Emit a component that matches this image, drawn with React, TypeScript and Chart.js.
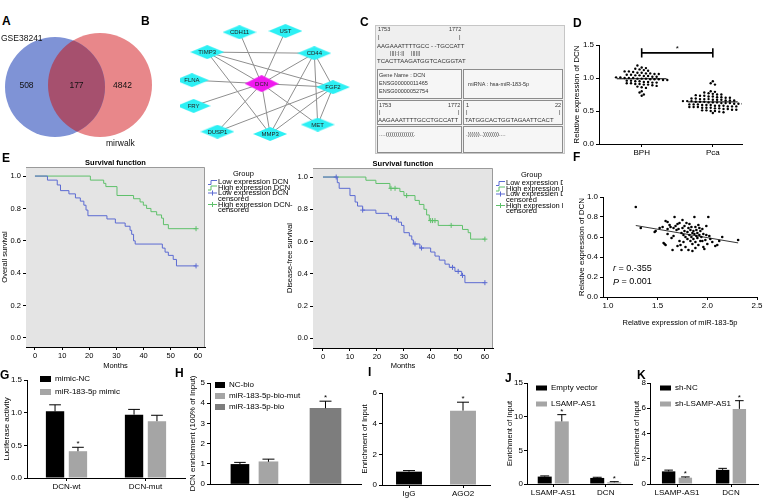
import React, { useEffect, useRef } from 'react';
import { Chart, registerables } from 'chart.js';
Chart.register(...registerables);

const FONT = '"Liberation Sans", Arial, Helvetica, sans-serif';
Chart.defaults.font.family = FONT;

// ---------------- DATA ----------------
// A: Venn
const vennSets = ['GSE38241', 'mirwalk'];
const vennCounts = [508, 177, 4842]; // only set A, both, only set B
const vennCX = [0, 0.9];
const vennCY = [0, 0.04];
const vennR = [1, 1.04];

// B: network
const netNodes = ['CDH11', 'UST', 'TIMP3', 'CD44', 'FLNA', 'DCN', 'FGF2', 'FRY', 'MET', 'DUSP1', 'MMP3'];
const netX = [3.5, 6.2, 1.6, 7.9, 0.7, 4.8, 9.0, 0.8, 8.1, 2.2, 5.3];
const netY = [0.7, 0.6, 2.4, 2.5, 4.8, 5.1, 5.4, 7.0, 8.6, 9.2, 9.4];
const netHub = 'DCN';
const netEdges = [
  ['DCN', 'CDH11'], ['DCN', 'UST'], ['DCN', 'TIMP3'], ['DCN', 'CD44'], ['DCN', 'FLNA'], ['DCN', 'FGF2'],
  ['DCN', 'FRY'], ['DCN', 'MET'], ['DCN', 'DUSP1'], ['DCN', 'MMP3'],
  ['TIMP3', 'CD44'], ['TIMP3', 'FGF2'], ['TIMP3', 'MMP3'],
  ['CD44', 'FGF2'], ['CD44', 'MET'], ['CD44', 'MMP3'],
  ['FGF2', 'MET'], ['FGF2', 'MMP3'], ['FGF2', 'DUSP1'],
];

// C: binding site
const alignNums = ['1753', '1772'];
const alignSeq1 = 'AAGAAATTTTGCC - -TGCCATT';
const alignPairs = '||||:|:||    ||||||';
const alignSeq2 = 'TCACTTAAGATGGTCACGGTAT';
const geneInfo = ['Gene Name : DCN', 'ENSG00000011465', 'ENSG00000052754'];
const mirnaInfo = 'miRNA : hsa-miR-183-5p';
const geneRange = ['1753', '1772'];
const geneSeq = 'AAGAAATTTTGCCTGCCATT';
const geneFold = '....((((((((((((((.';
const mirRange = ['1', '22'];
const mirSeq = 'TATGGCACTGGTAGAATTCACT';
const mirFold = '.))))))..))))))))....';

// D: DCN expression
const dCats = ['BPH', 'Pca'];
const dBPH = [1.19, 1.16, 1.15, 1.14, 1.13, 1.12, 1.11, 1.10, 1.10, 1.09, 1.08, 1.08, 1.07, 1.07, 1.06, 1.06, 1.05, 1.05, 1.04, 1.04,
  1.03, 1.03, 1.02, 1.02, 1.01, 1.01, 1.00, 1.00, 1.00, 0.99, 0.99, 0.99, 0.98, 0.98, 0.98, 0.97, 0.97, 0.96, 0.96, 0.95,
  0.95, 0.94, 0.94, 0.93, 0.93, 0.92, 0.92, 0.91, 0.91, 0.90, 0.90, 0.89, 0.88, 0.87, 0.86, 0.85, 0.80, 0.78, 0.75, 0.73];
const dPca = [0.95, 0.92, 0.90, 0.80, 0.79, 0.78, 0.77, 0.76, 0.75, 0.75, 0.74, 0.73, 0.73, 0.72, 0.72, 0.71, 0.71, 0.70, 0.70, 0.69,
  0.69, 0.68, 0.68, 0.68, 0.67, 0.67, 0.67, 0.66, 0.66, 0.66, 0.65, 0.65, 0.65, 0.64, 0.64, 0.64, 0.63, 0.63, 0.63, 0.62,
  0.62, 0.62, 0.61, 0.61, 0.61, 0.60, 0.60, 0.60, 0.59, 0.59, 0.59, 0.58, 0.58, 0.58, 0.57, 0.57, 0.57, 0.56, 0.56, 0.56,
  0.55, 0.55, 0.55, 0.54, 0.54, 0.53, 0.53, 0.52, 0.52, 0.51, 0.51, 0.50, 0.50, 0.49, 0.48, 0.47];
const dYTicks = [0, 0.5, 1.0, 1.5];

// E: survival
const kmXTicks = [0, 10, 20, 30, 40, 50, 60];
const kmYTicks = [0, 0.2, 0.4, 0.6, 0.8, 1.0];
const kmGroups = ['Low expression DCN', 'High expression DCN', 'Low expression DCN', 'High expression DCN-'];
const kmGroups2 = ['Low expression DCN', 'High expression DCN', 'Low expressien DCN', 'High expression DCN-'];
const osLowT = [0, 4.6, 8.2, 9.4, 12.5, 14.9, 16.7, 18, 18.8, 19.5, 26.5, 29.6, 33.2, 35, 35.6, 36.3, 36.9, 46.9, 47.9, 49.1, 50.9, 52.1, 59.3];
const osLowS = [1, 0.975, 0.945, 0.91, 0.89, 0.865, 0.845, 0.82, 0.79, 0.755, 0.735, 0.71, 0.69, 0.665, 0.64, 0.60, 0.58, 0.555, 0.53, 0.51, 0.485, 0.445, 0.445];
const osLowCT = [59.3];
const osLowCS = [0.445];
const osHighT = [0, 20.4, 25.3, 26.1, 30.2, 36.3, 38.7, 39.9, 41.1, 42.7, 44.8, 46.6, 47.3, 49.1, 59.3];
const osHighS = [1, 0.975, 0.955, 0.935, 0.88, 0.86, 0.84, 0.82, 0.80, 0.78, 0.76, 0.74, 0.70, 0.675, 0.675];
const osHighCT = [59.3];
const osHighCS = [0.675];
const dfsLowT = [0, 5.3, 6.0, 10, 11.9, 12.8, 14.7, 19.6, 24.2, 25.4, 27.9, 29.1, 30, 32, 32.9, 33.5, 35.9, 39.9, 41.5, 43.1, 45.2, 46.8, 48.9, 51.4, 52.6, 60];
const dfsLowS = [1, 0.965, 0.93, 0.885, 0.845, 0.82, 0.795, 0.775, 0.76, 0.74, 0.72, 0.70, 0.655, 0.635, 0.61, 0.585, 0.56, 0.535, 0.51, 0.485, 0.46, 0.44, 0.415, 0.39, 0.345, 0.345];
const dfsLowCT = [4.9, 14.7, 27.2, 34.1, 36.5, 48, 50.1, 51.7, 60];
const dfsLowCS = [1, 0.795, 0.74, 0.585, 0.56, 0.44, 0.415, 0.39, 0.345];
const dfsHighT = [0, 15.9, 19.6, 24.8, 28.5, 30, 34.1, 35.7, 37.4, 38.4, 39.4, 42.7, 51.7, 53.8, 54.7, 60];
const dfsHighS = [1, 0.98, 0.96, 0.93, 0.91, 0.885, 0.855, 0.83, 0.80, 0.765, 0.73, 0.70, 0.675, 0.655, 0.615, 0.615];
const dfsHighCT = [25.2, 26.7, 31, 39.9, 40.6, 41.5, 47.5, 60];
const dfsHighCS = [0.93, 0.93, 0.885, 0.73, 0.73, 0.73, 0.70, 0.615];

// F: correlation
const fX = [1.28, 1.33, 1.47, 1.48, 1.52, 1.55, 1.56, 1.57, 1.58, 1.58, 1.60, 1.60, 1.62, 1.63, 1.64, 1.65, 1.66, 1.67, 1.68, 1.69,
  1.70, 1.71, 1.72, 1.72, 1.73, 1.74, 1.75, 1.75, 1.76, 1.77, 1.77, 1.78, 1.78, 1.79, 1.80, 1.80, 1.81, 1.81, 1.82, 1.82,
  1.83, 1.83, 1.84, 1.84, 1.85, 1.85, 1.85, 1.86, 1.86, 1.87, 1.87, 1.88, 1.88, 1.89, 1.89, 1.90, 1.90, 1.91, 1.91, 1.92,
  1.93, 1.93, 1.94, 1.95, 1.96, 1.96, 1.97, 1.98, 1.99, 2.00, 2.01, 2.02, 2.03, 2.05, 2.08, 2.10, 2.12, 2.15, 2.31, 1.70,
  1.60, 1.95, 1.76, 1.88, 1.66, 1.74, 1.92, 1.99];
const fY = [0.90, 0.69, 0.65, 0.66, 0.69, 0.70, 0.54, 0.53, 0.52, 0.76, 0.75, 0.68, 0.72, 0.70, 0.59, 0.47, 0.69, 0.80, 0.71, 0.67,
  0.73, 0.68, 0.74, 0.56, 0.52, 0.47, 0.77, 0.69, 0.62, 0.66, 0.71, 0.60, 0.50, 0.74, 0.58, 0.65, 0.47, 0.69, 0.62, 0.73,
  0.56, 0.67, 0.60, 0.70, 0.64, 0.53, 0.46, 0.66, 0.58, 0.63, 0.80, 0.55, 0.70, 0.61, 0.67, 0.59, 0.64, 0.52, 0.72, 0.62,
  0.56, 0.66, 0.60, 0.68, 0.50, 0.63, 0.48, 0.57, 0.62, 0.53, 0.80, 0.61, 0.58, 0.55, 0.51, 0.52, 0.56, 0.60, 0.57, 0.51,
  0.63, 0.56, 0.55, 0.49, 0.61, 0.64, 0.69, 0.71];
const fXTicks = [1.0, 1.5, 2.0, 2.5];
const fYTicks = [0, 0.2, 0.4, 0.6, 0.8, 1.0];
const fR = '0.-355';
const fP = '0.001';

// G
const gCats = ['DCN-wt', 'DCN-mut'];
const gNC = [1.02, 0.97];
const gNCErr = [0.10, 0.08];
const gMimic = [0.41, 0.87];
const gMimicErr = [0.06, 0.09];
const gMimicStar = [true, false];
const gTicks = [0, 0.5, 1.0, 1.5];
// H
const hCats = ['NC-bio', 'miR-183-5p-bio-mut', 'miR-183-5p-bio'];
const hVals = [0.97, 1.1, 3.75];
const hErr = [0.1, 0.13, 0.35];
const hStar = [false, false, true];
const hTicks = [0, 1, 2, 3, 4, 5];
// I
const iCats = ['IgG', 'AGO2'];
const iVals = [0.87, 4.85];
const iErr = [0.07, 0.55];
const iStar = [false, true];
const iTicks = [0, 2, 4, 6];
// J
const jCats = ['LSAMP-AS1', 'DCN'];
const jEmpty = [1.1, 0.9];
const jEmptyErr = [0.1, 0.1];
const jLsamp = [9.3, 0.25];
const jLsampErr = [1.0, 0.1];
const jStar = [true, true];
const jTicks = [0, 5, 10, 15];
// K
const kCats = ['LSAMP-AS1', 'DCN'];
const kNC = [1.0, 1.12];
const kNCErr = [0.1, 0.12];
const kSh = [0.5, 5.95];
const kShErr = [0.06, 0.65];
const kStar = [true, true];
const kTicks = [0, 2, 4, 6, 8];

// ---------------- COLORS ----------------
const BLACK = '#000000';
const LGRAY = '#a5a5a5';
const DGRAY = '#7d7d7d';
const KM_BLUE = '#5c6bd2';
const KM_GREEN = '#5fc06b';

// ---------------- HELPERS ----------------
type Box = { x: number; y: number; w: number; h: number };
type Area = { l: number; t: number; r: number; b: number };

function pad(box: Box, a: Area, yW: number, xH: number) {
  return { left: a.l - box.x - yW, top: a.t - box.y, right: box.x + box.w - a.r, bottom: box.y + box.h - a.b - xH };
}
function zeroPad(s: any) { s.paddingLeft = 0; s.paddingRight = 0; s.paddingTop = 0; s.paddingBottom = 0; }
const fitW = (w: number) => (s: any) => { s.width = w; zeroPad(s); };
const fitH = (h: number) => (s: any) => { s.height = h; zeroPad(s); };
const setTicks = (vals: number[]) => (s: any) => { s.ticks = vals.map((v) => ({ value: v })); };

function base(padding: any, extraPlugins: any = {}) {
  return {
    responsive: false, maintainAspectRatio: false, animation: false, devicePixelRatio: 1, events: [],
    layout: { padding },
    plugins: { legend: { display: false }, tooltip: { enabled: false }, title: { display: false }, ...extraPlugins },
  };
}
function axisY(o: any) {
  return {
    type: 'linear', min: o.min, max: o.max,
    afterBuildTicks: setTicks(o.ticks),
    ticks: { font: { size: o.size ?? 8 }, color: '#000', padding: o.tickPad ?? 2, callback: o.fmt },
    grid: { drawOnChartArea: false, drawTicks: true, tickLength: 3, color: '#000', lineWidth: 1 },
    border: { display: true, color: '#000', width: 1 },
    title: o.title ? { display: true, text: o.title, font: { size: o.titleSize ?? 8 }, color: '#000', padding: 0 } : { display: false },
    afterFit: fitW(o.w),
  };
}
function hidden(min: number, max: number, reverse = false) {
  return { type: 'linear', display: false, min, max, reverse };
}

function ChartCanvas({ box, make }: { box: Box; make: () => any }) {
  const ref = useRef<HTMLCanvasElement | null>(null);
  useEffect(() => {
    const chart = new Chart(ref.current as HTMLCanvasElement, make());
    return () => chart.destroy();
  }, []);
  return (
    <canvas ref={ref} width={box.w} height={box.h}
      style={{ position: 'absolute', left: box.x, top: box.y, width: box.w, height: box.h }} />
  );
}

// ---------------- PLUGINS ----------------
const errBarPlugin = {
  id: 'errbars',
  afterDatasetsDraw(chart: any, _a: any, o: any) {
    if (!o || !o.errs) return;
    const { ctx } = chart;
    const ys = chart.scales.y;
    chart.data.datasets.forEach((ds: any, di: number) => {
      const meta = chart.getDatasetMeta(di);
      const errs = o.errs[di] || [];
      const stars = (o.stars && o.stars[di]) || [];
      meta.data.forEach((el: any, i: number) => {
        const raw = ds.data[i];
        const v = typeof raw === 'object' ? raw.y : raw;
        const e = errs[i] || 0;
        const top = ys.getPixelForValue(v + e);
        const x = el.x;
        const hw = Math.min(el.width * 0.32, 6);
        ctx.save();
        ctx.strokeStyle = o.color || '#000';
        ctx.lineWidth = 1;
        ctx.beginPath();
        ctx.moveTo(x, el.y);
        ctx.lineTo(x, top);
        ctx.moveTo(x - hw, top);
        ctx.lineTo(x + hw, top);
        ctx.stroke();
        if (stars[i]) {
          ctx.fillStyle = '#000';
          ctx.font = `8px ${FONT}`;
          ctx.textAlign = 'center';
          ctx.textBaseline = 'alphabetic';
          ctx.fillText('*', x, top - 1);
        }
        ctx.restore();
      });
    });
  },
};

const boxLegendPlugin = {
  id: 'boxlegend',
  afterDraw(chart: any, _a: any, o: any) {
    if (!o || !o.items) return;
    const { ctx, chartArea: ca } = chart;
    ctx.save();
    ctx.font = `${o.size || 8}px ${FONT}`;
    ctx.textBaseline = 'middle';
    ctx.textAlign = 'left';
    o.items.forEach((it: any, i: number) => {
      const x = ca.left + o.dx;
      const y = ca.top + o.dy + i * o.step;
      ctx.fillStyle = it.color;
      ctx.fillRect(x, y - o.bh / 2, o.bw, o.bh);
      ctx.fillStyle = '#000';
      ctx.fillText(it.label, x + o.bw + 4, y);
    });
    ctx.restore();
  },
};

function barConfig(p: any) {
  const padding = pad(p.box, p.area, p.yW, p.xH);
  return {
    type: 'bar',
    data: {
      labels: p.cats,
      datasets: p.series.map((s: any) => ({
        label: s.label, data: s.data, backgroundColor: s.color, borderWidth: 0,
        categoryPercentage: p.cp, barPercentage: p.bp,
      })),
    },
    options: {
      ...base(padding, {
        errbars: { errs: p.series.map((s: any) => s.err), stars: p.series.map((s: any) => s.stars || []) },
        boxlegend: p.legend,
      }),
      scales: {
        x: {
          type: 'category', offset: true,
          ticks: { display: p.showX !== false, font: { size: 8 }, color: '#000', padding: 1, autoSkip: false, maxRotation: 0 },
          grid: { drawOnChartArea: false, drawTicks: true, tickLength: p.showX === false ? 0 : 3, color: '#000', offset: false },
          border: { display: true, color: '#000', width: 1 },
          afterFit: fitH(p.xH),
        },
        y: axisY({ min: 0, max: p.yMax, ticks: p.yTicks, w: p.yW, fmt: p.fmt, title: p.yTitle, tickPad: p.tickPad, titleSize: p.titleSize }),
      },
    },
    plugins: [errBarPlugin, boxLegendPlugin],
  };
}

// ---------------- PANELS ----------------
const vennBox = { x: 0, y: 28, w: 160, h: 120 };
function vennConfig() {
  const colors = ['#7f93d6', '#e8878a'];
  const overlap = '#a6506e';
  const plugin = {
    id: 'venn',
    afterDatasetsDraw(chart: any) {
      const { ctx } = chart;
      const xs = chart.scales.x; const ys = chart.scales.y;
      const px = (v: number) => xs.getPixelForValue(v);
      const py = (v: number) => ys.getPixelForValue(v);
      const pr = (r: number) => xs.getPixelForValue(r) - xs.getPixelForValue(0);
      ctx.save();
      ctx.beginPath();
      ctx.arc(px(vennCX[0]), py(vennCY[0]), pr(vennR[0]), 0, Math.PI * 2);
      ctx.clip();
      ctx.beginPath();
      ctx.arc(px(vennCX[1]), py(vennCY[1]), pr(vennR[1]), 0, Math.PI * 2);
      ctx.fillStyle = overlap;
      ctx.fill();
      ctx.restore();
      ctx.save();
      ctx.fillStyle = '#111';
      ctx.font = `8.5px ${FONT}`;
      ctx.textAlign = 'center';
      ctx.textBaseline = 'middle';
      const aL = vennCX[0] - vennR[0], aR = vennCX[0] + vennR[0];
      const bL = vennCX[1] - vennR[1], bR = vennCX[1] + vennR[1];
      const cy = py((vennCY[0] + vennCY[1]) / 2);
      ctx.fillText(String(vennCounts[0]), px((aL + bL) / 2), cy);
      ctx.fillText(String(vennCounts[1]), px((bL + aR) / 2), cy);
      ctx.fillText(String(vennCounts[2]), px((aR + bR) / 2) - 6, cy);
      ctx.textAlign = 'left';
      ctx.textBaseline = 'alphabetic';
      ctx.fillText(vennSets[0], px(aL) - 4, py(vennCY[0] + vennR[0]) + 4);
      ctx.fillText(vennSets[1], px(vennCX[1]) + 6, py(vennCY[1] - vennR[1]) + 9);
      ctx.restore();
    },
  };
  return {
    type: 'scatter',
    data: {
      datasets: vennSets.map((s, i) => ({
        label: s,
        data: [{ x: vennCX[i], y: vennCY[i] }],
        pointRadius: (c: any) => c.chart.scales.x.getPixelForValue(vennR[i]) - c.chart.scales.x.getPixelForValue(0),
        backgroundColor: colors[i], borderWidth: 0,
      })),
    },
    options: { ...base({ left: 0, right: 0, top: 0, bottom: 0 }), scales: { x: hidden(-1.1, 2.1), y: hidden(-1.22, 1.18) } },
    plugins: [plugin],
  };
}

const netBox = { x: 170, y: 15, w: 190, h: 135 };
function diamond(w: number, h: number, color: string) {
  const c = document.createElement('canvas');
  c.width = w; c.height = h;
  const g = c.getContext('2d') as CanvasRenderingContext2D;
  g.fillStyle = color;
  g.beginPath();
  g.moveTo(w / 2, 0); g.lineTo(w, h / 2); g.lineTo(w / 2, h); g.lineTo(0, h / 2);
  g.closePath(); g.fill();
  return c;
}
function netConfig() {
  const cyan = diamond(34, 14, '#2cf0f4');
  const hub = diamond(34, 17, '#f018ef');
  const idx = (n: string) => netNodes.indexOf(n);
  const labels = {
    id: 'netlabels',
    afterDatasetsDraw(chart: any) {
      const { ctx } = chart;
      const meta = chart.getDatasetMeta(0);
      ctx.save();
      ctx.fillStyle = '#222';
      ctx.font = `6px ${FONT}`;
      ctx.textAlign = 'center';
      ctx.textBaseline = 'middle';
      meta.data.forEach((el: any, i: number) => ctx.fillText(netNodes[i], el.x, el.y + 0.5));
      ctx.restore();
    },
  };
  return {
    type: 'scatter',
    data: {
      datasets: [
        {
          label: 'nodes',
          data: netNodes.map((_, i) => ({ x: netX[i], y: netY[i] })),
          pointStyle: netNodes.map((n) => (n === netHub ? hub : cyan)),
          pointRadius: 8,
        },
        ...netEdges.map(([a, b]) => ({
          label: a + '-' + b,
          data: [{ x: netX[idx(a)], y: netY[idx(a)] }, { x: netX[idx(b)], y: netY[idx(b)] }],
          showLine: true, borderColor: '#8f8f8f', borderWidth: 1, pointRadius: 0,
        })),
      ],
    },
    options: { ...base({ left: 10, right: 10, top: 5, bottom: 5 }), scales: { x: hidden(0, 10), y: hidden(0, 10, true) } },
    plugins: [labels],
  };
}

const dBox = { x: 572, y: 30, w: 191, h: 128 };
const dArea = { l: 599, t: 45, r: 742, b: 144 };
function swarm(vals: number[], center: number, bin: number, step: number) {
  const groups: Record<string, number[]> = {};
  vals.forEach((v) => { const k = String(Math.round(v / bin)); (groups[k] = groups[k] || []).push(v); });
  const pts: any[] = [];
  Object.values(groups).forEach((arr) => {
    const n = arr.length;
    arr.forEach((v, i) => pts.push({ x: center + (i - (n - 1) / 2) * step, y: v }));
  });
  return pts;
}
const mean = (a: number[]) => a.reduce((s, v) => s + v, 0) / a.length;
function dConfig() {
  const yW = dArea.l - dBox.x;
  const xH = dBox.y + dBox.h - dArea.b;
  const bracket = {
    id: 'bracket',
    afterDatasetsDraw(chart: any) {
      const { ctx } = chart;
      const xs = chart.scales.x; const ys = chart.scales.y;
      const x1 = xs.getPixelForValue(1), x2 = xs.getPixelForValue(2);
      const y = ys.getPixelForValue(1.38);
      const c1 = ys.getPixelForValue(1.45), c2 = ys.getPixelForValue(1.31);
      ctx.save();
      ctx.strokeStyle = '#000'; ctx.lineWidth = 1.6;
      ctx.beginPath();
      ctx.moveTo(x1, y); ctx.lineTo(x2, y);
      ctx.moveTo(x1, c1); ctx.lineTo(x1, c2);
      ctx.moveTo(x2, c1); ctx.lineTo(x2, c2);
      ctx.stroke();
      ctx.fillStyle = '#000'; ctx.font = `8px ${FONT}`; ctx.textAlign = 'center';
      ctx.fillText('*', (x1 + x2) / 2, y - 2);
      ctx.restore();
    },
  };
  const mB = mean(dBPH), mP = mean(dPca);
  return {
    type: 'scatter',
    data: {
      datasets: [
        { label: 'BPH mean', data: [{ x: 0.65, y: mB }, { x: 1.35, y: mB }], showLine: true, borderColor: '#000', borderWidth: 1, pointRadius: 0 },
        { label: 'Pca mean', data: [{ x: 1.65, y: mP }, { x: 2.35, y: mP }], showLine: true, borderColor: '#000', borderWidth: 1, pointRadius: 0 },
        { label: dCats[0], data: swarm(dBPH, 1, 0.045, 0.06), pointRadius: 1.2, backgroundColor: '#000', borderWidth: 0 },
        { label: dCats[1], data: swarm(dPca, 2, 0.045, 0.06), pointRadius: 1.2, backgroundColor: '#000', borderWidth: 0 },
      ],
    },
    options: {
      ...base(pad(dBox, dArea, yW, xH)),
      scales: {
        x: {
          type: 'linear', min: 0.4, max: 2.41,
          afterBuildTicks: setTicks([1, 2]),
          ticks: { font: { size: 8 }, color: '#000', padding: 1, callback: (_v: any, i: number) => dCats[i] },
          grid: { drawOnChartArea: false, drawTicks: true, tickLength: 3, color: '#000' },
          border: { display: true, color: '#000', width: 1 },
          afterFit: fitH(xH),
        },
        y: axisY({ min: 0, max: 1.5, ticks: dYTicks, w: yW, fmt: (v: number) => v.toFixed(1), title: 'Relative expression of DCN' }),
      },
    },
    plugins: [bracket],
  };
}

const fBox = { x: 577, y: 185, w: 186, h: 142 };
const fArea = { l: 603, t: 197, r: 757, b: 297 };
function fConfig() {
  const yW = fArea.l - fBox.x;
  const xH = fBox.y + fBox.h - fArea.b;
  const n = fX.length;
  const mx = mean(fX), my = mean(fY);
  let sxy = 0, sxx = 0;
  for (let i = 0; i < n; i++) { sxy += (fX[i] - mx) * (fY[i] - my); sxx += (fX[i] - mx) ** 2; }
  const slope = sxy / sxx;
  const icpt = my - slope * mx;
  const xMin = Math.min(...fX), xMax = Math.max(...fX);
  const stats = {
    id: 'stats',
    afterDatasetsDraw(chart: any) {
      const { ctx } = chart;
      const xs = chart.scales.x; const ys = chart.scales.y;
      const x = xs.getPixelForValue(1.05);
      ctx.save();
      ctx.fillStyle = '#000'; ctx.textBaseline = 'middle'; ctx.textAlign = 'left';
      const row = (sym: string, val: string, yv: number) => {
        const y = ys.getPixelForValue(yv);
        ctx.font = `italic 9px ${FONT}`;
        ctx.fillText(sym, x, y);
        const w = ctx.measureText(sym).width;
        ctx.font = `9px ${FONT}`;
        ctx.fillText(' = ' + val, x + w, y);
      };
      row('r', fR, 0.285);
      row('P', fP, 0.15);
      ctx.restore();
    },
  };
  return {
    type: 'scatter',
    data: {
      datasets: [
        { label: 'points', data: fX.map((x, i) => ({ x, y: fY[i] })), pointRadius: 1.3, backgroundColor: '#000', borderWidth: 0 },
        { label: 'fit', data: [{ x: xMin, y: icpt + slope * xMin }, { x: xMax, y: icpt + slope * xMax }], showLine: true, borderColor: '#000', borderWidth: 0.8, pointRadius: 0 },
      ],
    },
    options: {
      ...base(pad(fBox, fArea, yW, xH)),
      scales: {
        x: {
          type: 'linear', min: 0.95, max: 2.5,
          afterBuildTicks: setTicks(fXTicks),
          ticks: { font: { size: 8 }, color: '#000', padding: 1, callback: (v: number) => v.toFixed(1) },
          grid: { drawOnChartArea: false, drawTicks: true, tickLength: 3, color: '#000' },
          border: { display: true, color: '#000', width: 1 },
          title: { display: true, text: 'Relative expression of miR-183-5p', font: { size: 7.5 }, color: '#000', padding: 0 },
          afterFit: fitH(xH),
        },
        y: axisY({ min: 0, max: 1.0, ticks: fYTicks, w: yW, fmt: (v: number) => v.toFixed(1), title: 'Relative expression of DCN' }),
      },
    },
    plugins: [stats],
  };
}

const kmPlugin = {
  id: 'km',
  beforeDatasetsDraw(chart: any) {
    const { ctx, chartArea: ca } = chart;
    ctx.save();
    ctx.fillStyle = '#e4e4e4';
    ctx.fillRect(ca.left, ca.top, ca.right - ca.left, ca.bottom - ca.top);
    ctx.strokeStyle = '#9a9a9a'; ctx.lineWidth = 1;
    ctx.beginPath();
    ctx.moveTo(ca.left, ca.top + 0.5); ctx.lineTo(ca.right - 0.5, ca.top + 0.5); ctx.lineTo(ca.right - 0.5, ca.bottom);
    ctx.stroke();
    ctx.restore();
  },
  afterDraw(chart: any, _a: any, o: any) {
    const { ctx, chartArea: ca } = chart;
    ctx.save();
    ctx.fillStyle = '#000';
    ctx.font = `bold 7.5px ${FONT}`;
    ctx.textAlign = 'center'; ctx.textBaseline = 'alphabetic';
    ctx.fillText('Survival function', (ca.left + ca.right) / 2, ca.top - 2);
    ctx.font = `7.5px ${FONT}`;
    ctx.textAlign = 'left'; ctx.textBaseline = 'middle';
    const lx = ca.right + 3;
    ctx.fillText('Group', lx + 25, ca.top + 7);
    const rows = [
      { c: KM_BLUE, cens: false, lines: [o.labels[0]] },
      { c: KM_GREEN, cens: false, lines: [o.labels[1]] },
      { c: KM_BLUE, cens: true, lines: [o.labels[2], 'censored'] },
      { c: KM_GREEN, cens: true, lines: [o.labels[3], 'censored'] },
    ];
    let y = ca.top + 15;
    rows.forEach((r) => {
      ctx.strokeStyle = r.c; ctx.lineWidth = 1;
      ctx.beginPath();
      if (!r.cens) {
        ctx.moveTo(lx, y + 2.5); ctx.lineTo(lx + 3, y + 2.5); ctx.lineTo(lx + 3, y - 1.5); ctx.lineTo(lx + 9, y - 1.5);
      } else {
        ctx.moveTo(lx, y); ctx.lineTo(lx + 9, y); ctx.moveTo(lx + 4.5, y - 2.5); ctx.lineTo(lx + 4.5, y + 2.5);
      }
      ctx.stroke();
      r.lines.forEach((t: string, k: number) => { ctx.fillText(t, lx + 10, y + k * 5.5); });
      y += r.lines.length * 5.5 + (r.cens ? 0.5 : 0);
    });
    ctx.restore();
  },
};
function kmConfig(box: Box, area: Area, yMin: number, yMax: number, xMin: number, xMax: number, yTitle: string, d: any) {
  const yW = area.l - box.x;
  const xH = box.y + box.h - area.b;
  const pts = (t: number[], s: number[]) => t.map((x, i) => ({ x, y: s[i] }));
  return {
    type: 'scatter',
    data: {
      datasets: [
        { label: 'lowC', data: pts(d.lowCT, d.lowCS), pointStyle: 'cross', pointRadius: 2.5, borderColor: KM_BLUE, borderWidth: 1, showLine: false },
        { label: 'highC', data: pts(d.highCT, d.highCS), pointStyle: 'cross', pointRadius: 2.5, borderColor: KM_GREEN, borderWidth: 1, showLine: false },
        { label: 'low', data: pts(d.lowT, d.lowS), showLine: true, stepped: 'before', borderColor: KM_BLUE, borderWidth: 1, pointRadius: 0 },
        { label: 'high', data: pts(d.highT, d.highS), showLine: true, stepped: 'before', borderColor: KM_GREEN, borderWidth: 1, pointRadius: 0 },
      ],
    },
    options: {
      ...base(pad(box, area, yW, xH), { km: { labels: d.labels } }),
      scales: {
        x: {
          type: 'linear', min: xMin, max: xMax,
          afterBuildTicks: setTicks(kmXTicks),
          ticks: { font: { size: 7.5 }, color: '#000', padding: 1 },
          grid: { drawOnChartArea: false, drawTicks: true, tickLength: 3, color: '#000' },
          border: { display: true, color: '#000', width: 1 },
          title: { display: true, text: 'Months', font: { size: 7.5 }, color: '#000', padding: 0 },
          afterFit: fitH(xH),
        },
        y: axisY({ min: yMin, max: yMax, ticks: kmYTicks, w: yW, fmt: (v: number) => v.toFixed(1), title: yTitle, size: 7.5, titleSize: 7.5 }),
      },
    },
    plugins: [kmPlugin],
  };
}
const e1Box = { x: 0, y: 156, w: 300, h: 214 };
const e1Area = { l: 26, t: 167, r: 205, b: 347 };
const e2Box = { x: 285, y: 156, w: 278, h: 214 };
const e2Area = { l: 313, t: 168, r: 493, b: 348 };

const gBox = { x: 2, y: 362, w: 186, h: 137 };
const hBox = { x: 188, y: 362, w: 174, h: 137 };
const iBox = { x: 360, y: 362, w: 135, h: 137 };
const jBox = { x: 505, y: 362, w: 130, h: 137 };
const kBox = { x: 632, y: 362, w: 131, h: 137 };

const gCfg = () => barConfig({
  box: gBox, area: { l: 27, t: 380, r: 185, b: 478 }, yW: 25, xH: 21, cats: gCats, cp: 0.58, bp: 0.8,
  series: [
    { label: 'mimic-NC', data: gNC, err: gNCErr, color: BLACK },
    { label: 'miR-183-5p mimic', data: gMimic, err: gMimicErr, color: LGRAY, stars: gMimicStar },
  ],
  yMax: 1.5, yTicks: gTicks, fmt: (v: number) => v.toFixed(1), yTitle: 'Luciferase activity',
  legend: { dx: 13, dy: -1, step: 13, bw: 11, bh: 6, items: [{ label: 'mimic-NC', color: BLACK }, { label: 'miR-183-5p mimic', color: LGRAY }] },
});

// H: three bars on a linear slot axis (third bar set one slot apart, wider)
function hCfg() {
  const area = { l: 210, t: 383, r: 362, b: 484 };
  const yW = area.l - hBox.x;
  const xH = hBox.y + hBox.h - area.b;
  const colors = [BLACK, LGRAY, DGRAY];
  const thick = [18, 19, 31];
  const slot = (i: number) => (i < 2 ? i : i + 1);
  return {
    type: 'bar',
    data: {
      datasets: hCats.map((c, i) => ({
        label: c, data: [{ x: slot(i), y: hVals[i] }], backgroundColor: colors[i], borderWidth: 0,
        barThickness: thick[i], grouped: false,
      })),
    },
    options: {
      ...base(pad(hBox, area, yW, xH), {
        errbars: { errs: hErr.map((e) => [e]), stars: hStar.map((s) => [s]) },
        boxlegend: { dx: 5, dy: 2, step: 11, bw: 10, bh: 6, items: hCats.map((c, i) => ({ label: c, color: colors[i] })) },
      }),
      scales: {
        x: {
          type: 'linear', min: -1.05, max: 4.28, offset: false,
          ticks: { display: false },
          grid: { display: false, offset: false },
          border: { display: true, color: '#000', width: 1 },
          afterFit: fitH(xH),
        },
        y: axisY({ min: 0, max: 5, ticks: hTicks, w: yW, fmt: (v: number) => String(v), title: 'DCN enrichment (100% of Input)' }),
      },
    },
    plugins: [errBarPlugin, boxLegendPlugin],
  };
}
const iCfg = () => barConfig({
  box: iBox, area: { l: 382, t: 393, r: 490, b: 485 }, yW: 22, xH: 14, cats: iCats, cp: 0.8, bp: 0.6,
  series: [{ label: 'Input', data: iVals, err: iErr, color: [BLACK, LGRAY], stars: iStar }],
  yMax: 6, yTicks: iTicks, fmt: (v: number) => String(v), yTitle: 'Enrichment of Input',
});
const jCfg = () => barConfig({
  box: jBox, area: { l: 527, t: 383, r: 632, b: 484 }, yW: 22, xH: 15, cats: jCats, cp: 0.65, bp: 0.82, tickPad: 1,
  series: [
    { label: 'Empty vector', data: jEmpty, err: jEmptyErr, color: BLACK },
    { label: 'LSAMP-AS1', data: jLsamp, err: jLsampErr, color: LGRAY, stars: jStar },
  ],
  yMax: 15, yTicks: jTicks, fmt: (v: number) => String(v), yTitle: 'Enrichment of Input', titleSize: 7.5,
  legend: { dx: 9, dy: 5, step: 16, bw: 11, bh: 5, items: [{ label: 'Empty vector', color: BLACK }, { label: 'LSAMP-AS1', color: LGRAY }] },
});
const kCfg = () => barConfig({
  box: kBox, area: { l: 650, t: 383, r: 758, b: 484 }, yW: 18, xH: 15, cats: kCats, cp: 0.62, bp: 0.8, tickPad: 1,
  series: [
    { label: 'sh-NC', data: kNC, err: kNCErr, color: BLACK },
    { label: 'sh-LSAMP-AS1', data: kSh, err: kShErr, color: LGRAY, stars: kStar },
  ],
  yMax: 8, yTicks: kTicks, fmt: (v: number) => String(v), yTitle: 'Enrichment of Input', titleSize: 7.5,
  legend: { dx: 10, dy: 5, step: 16, bw: 11, bh: 5, items: [{ label: 'sh-NC', color: BLACK }, { label: 'sh-LSAMP-AS1', color: LGRAY }] },
});

// ---------------- PANEL C (HTML) ----------------
function T({ x, y, children, align, size }: any) {
  const st: any = { position: 'absolute', top: y - 4, fontSize: size ?? 6, lineHeight: '8px', fontFamily: FONT, whiteSpace: 'pre', color: '#333', willChange: 'transform' };
  if (align === 'right') st.right = 763 - x; else st.left = x;
  return <div style={st}>{children}</div>;
}
function Cell({ x, y, w, h }: any) {
  return <div style={{ position: 'absolute', left: x, top: y, width: w, height: h, border: '1px solid #8c8c8c', background: '#f6f6f6', boxSizing: 'border-box' }} />;
}
function PanelC() {
  return (
    <>
      <div style={{ position: 'absolute', left: 375, top: 25, width: 190, height: 129, background: '#efefef', border: '1px solid #c6c6c6', boxSizing: 'border-box' }} />
      <T x={378} y={29} size={5.5}>{alignNums[0]}</T>
      <T x={461} y={29} size={5.5} align="right">{alignNums[1]}</T>
      <T x={378} y={37}>|</T>
      <T x={459} y={37}>|</T>
      <T x={377} y={46}>{alignSeq1}</T>
      <T x={390} y={53}>{alignPairs}</T>
      <T x={377} y={61}>{alignSeq2}</T>
      <Cell x={377} y={69} w={85} h={30} />
      <Cell x={463} y={69} w={100} h={30} />
      <Cell x={377} y={100} w={85} h={25} />
      <Cell x={463} y={100} w={100} h={25} />
      <Cell x={377} y={126} w={85} h={27} />
      <Cell x={463} y={126} w={100} h={27} />
      {geneInfo.map((g, i) => <T key={g} x={379} y={75 + i * 8} size={5.5}>{g}</T>)}
      <T x={468} y={84} size={5.5}>{mirnaInfo}</T>
      <T x={379} y={105} size={5.5}>{geneRange[0]}</T>
      <T x={460} y={105} size={5.5} align="right">{geneRange[1]}</T>
      <T x={379} y={112}>|</T>
      <T x={458} y={112}>|</T>
      <T x={378} y={120}>{geneSeq}</T>
      <T x={466} y={105} size={5.5}>{mirRange[0]}</T>
      <T x={561} y={105} size={5.5} align="right">{mirRange[1]}</T>
      <T x={466} y={112}>|</T>
      <T x={559} y={112}>|</T>
      <T x={465} y={120}>{mirSeq}</T>
      <T x={379} y={134}>{geneFold}</T>
      <T x={466} y={134}>{mirFold}</T>
    </>
  );
}

const letters = [
  { t: 'A', x: 2, y: 15 }, { t: 'B', x: 141, y: 15 }, { t: 'C', x: 360, y: 16 }, { t: 'D', x: 573, y: 17 },
  { t: 'E', x: 2, y: 152 }, { t: 'F', x: 573, y: 151 }, { t: 'G', x: 0, y: 369 }, { t: 'H', x: 175, y: 367 },
  { t: 'I', x: 368, y: 366 }, { t: 'J', x: 505, y: 372 }, { t: 'K', x: 637, y: 369 },
];

export default function App() {
  return (
    <div style={{ position: 'absolute', left: 0, top: 0, width: 763, height: 499, background: '#fff', overflow: 'hidden', fontFamily: FONT }}>
      <PanelC />
      <ChartCanvas box={vennBox} make={vennConfig} />
      <ChartCanvas box={netBox} make={netConfig} />
      <ChartCanvas box={dBox} make={dConfig} />
      <ChartCanvas box={fBox} make={fConfig} />
      <ChartCanvas box={e1Box} make={() => kmConfig(e1Box, e1Area, -0.056, 1.056, -3.3, 62.6, 'Overall survival',
        { lowT: osLowT, lowS: osLowS, lowCT: osLowCT, lowCS: osLowCS, highT: osHighT, highS: osHighS, highCT: osHighCT, highCS: osHighCS, labels: kmGroups })} />
      <ChartCanvas box={e2Box} make={() => kmConfig(e2Box, e2Area, -0.06, 1.056, -3.7, 63, 'Disease-free survival',
        { lowT: dfsLowT, lowS: dfsLowS, lowCT: dfsLowCT, lowCS: dfsLowCS, highT: dfsHighT, highS: dfsHighS, highCT: dfsHighCT, highCS: dfsHighCS, labels: kmGroups2 })} />
      <ChartCanvas box={gBox} make={gCfg} />
      <ChartCanvas box={hBox} make={hCfg} />
      <ChartCanvas box={iBox} make={iCfg} />
      <ChartCanvas box={jBox} make={jCfg} />
      <ChartCanvas box={kBox} make={kCfg} />
      {letters.map((l) => (
        <div key={l.t} style={{ position: 'absolute', left: l.x, top: l.y, fontSize: 12, lineHeight: '12px', fontWeight: 'bold', fontFamily: FONT, color: '#000' }}>{l.t}</div>
      ))}
    </div>
  );
}
